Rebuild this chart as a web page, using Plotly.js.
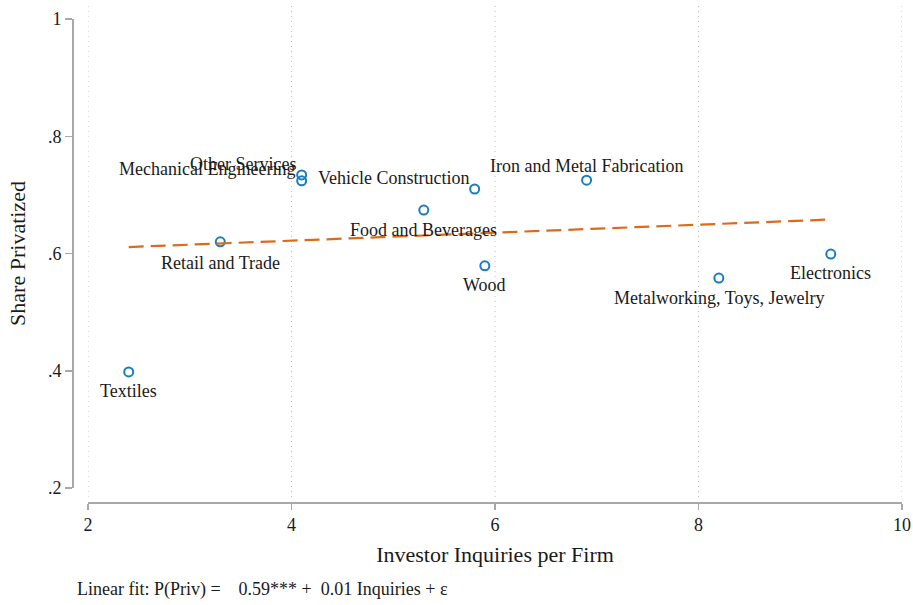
<!DOCTYPE html>
<html>
<head>
<meta charset="utf-8">
<script src="https://cdn.plot.ly/plotly-3.0.1.min.js"></script>
<style>html,body{margin:0;padding:0;background:#fff;}#chart{width:913px;height:605px;}</style>
</head>
<body>
<div id="chart"></div>
<script>
// Data
const industries = ["Textiles","Retail and Trade","Mechanical Engineering","Other Services","Food and Beverages","Vehicle Construction","Wood","Iron and Metal Fabrication","Metalworking, Toys, Jewelry","Electronics"];
const inquiries = [2.4, 3.3, 4.1, 4.1, 5.3, 5.8, 5.9, 6.9, 8.2, 9.3];
const sharePrivatized = [0.398, 0.620, 0.724, 0.734, 0.674, 0.710, 0.579, 0.725, 0.558, 0.599];
const fitX = [2.4, 9.3];
const fitY = [0.611, 0.658];
const xTicks = [2, 4, 6, 8, 10];
const yTicks = [0.2, 0.4, 0.6, 0.8, 1];
const yTickLabels = [".2", ".4", ".6", ".8", "1"];
const noteText = "Linear fit: P(Priv) =\u00a0\u00a0\u00a0\u00a00.59*** +\u00a0\u00a00.01 Inquiries + \u03b5";

// Label placement (style, separate from data)
const labelPlace = {
  "Textiles": {xanchor:"center", dx:0, dy:19},
  "Retail and Trade": {xanchor:"center", dx:0, dy:21},
  "Mechanical Engineering": {xanchor:"right", dx:-5, dy:-12},
  "Other Services": {xanchor:"right", dx:-4, dy:-11},
  "Food and Beverages": {xanchor:"center", dx:0, dy:20},
  "Vehicle Construction": {xanchor:"right", dx:-4, dy:-11},
  "Wood": {xanchor:"center", dx:0, dy:19},
  "Iron and Metal Fabrication": {xanchor:"center", dx:0, dy:-14},
  "Metalworking, Toys, Jewelry": {xanchor:"center", dx:0, dy:20},
  "Electronics": {xanchor:"center", dx:0, dy:19}
};

const FONT = "Liberation Serif, Times New Roman, serif";
const TXT = "#1a1a1a";

const annotations = industries.map((name, i) => {
  const p = labelPlace[name];
  return {
    x: inquiries[i], y: sharePrivatized[i], xref: "x", yref: "y",
    text: name, showarrow: false,
    xanchor: p.xanchor, yanchor: "middle",
    xshift: p.dx, yshift: -p.dy,
    font: {family: FONT, size: 18, color: TXT}
  };
});
annotations.push({
  xref: "paper", yref: "paper", x: 0.004, y: -0.181, xanchor: "left", yanchor: "middle",
  text: noteText, showarrow: false,
  font: {family: FONT, size: 18, color: TXT}
});

// dotted vertical grid lines at every x tick, spanning the plot region
const shapes = xTicks.map(v => ({
  type: "line", xref: "x", yref: "paper", x0: v, x1: v, y0: 0.0104, y1: 1.029,
  line: {color: "#bdbdbd", width: 1, dash: "1px,4px"}, layer: "below"
}));

const traces = [
  {
    x: inquiries, y: sharePrivatized, type: "scatter", mode: "markers",
    marker: {symbol: "circle-open", size: 9, color: "#1a7dbd", line: {width: 2, color: "#1a7dbd"}},
    hoverinfo: "skip", showlegend: false, cliponaxis: false
  },
  {
    x: fitX, y: fitY, type: "scatter", mode: "lines",
    line: {color: "#dd6a18", width: 2.2, dash: "15px,7px"},
    hoverinfo: "skip", showlegend: false
  }
];

const layout = {
  width: 913, height: 605,
  margin: {l: 72, r: 11, t: 19, b: 103},
  paper_bgcolor: "#fff", plot_bgcolor: "rgba(0,0,0,0)",
  showlegend: false,
  xaxis: {
    domain: [16/830, 1],
    range: [2, 10],
    tickvals: xTicks, ticktext: xTicks.map(String),
    ticks: "outside", ticklen: 6, tickcolor: "#a8a8a8", tickwidth: 1.5,
    showline: true, linecolor: "#a8a8a8", linewidth: 1.5,
    showgrid: false, zeroline: false,
    anchor: "free", position: 0,
    tickfont: {family: FONT, size: 18, color: TXT},
    title: {text: "Investor Inquiries per Firm", font: {family: FONT, size: 22, color: TXT}, standoff: 12}
  },
  yaxis: {
    domain: [14/483, 1],
    range: [0.2, 1],
    tickvals: yTicks, ticktext: yTickLabels,
    ticks: "outside", ticklen: 7, tickcolor: "#a8a8a8", tickwidth: 1.5,
    showline: true, linecolor: "#a8a8a8", linewidth: 1.5,
    showgrid: false, zeroline: false,
    anchor: "free", position: 0,
    tickfont: {family: FONT, size: 18, color: TXT},
    title: {text: "Share Privatized", font: {family: FONT, size: 22, color: TXT}, standoff: 14}
  },
  shapes: shapes,
  annotations: annotations
};

Plotly.newPlot("chart", traces, layout, {displayModeBar: false, staticPlot: true});
</script>
</body>
</html>
